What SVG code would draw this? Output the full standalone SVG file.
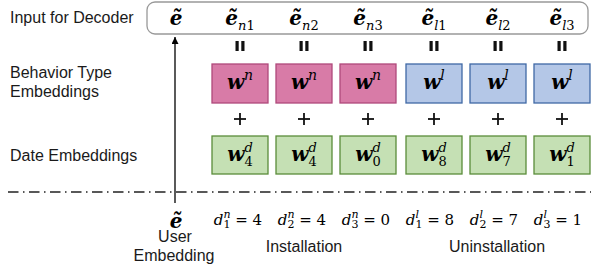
<svg xmlns="http://www.w3.org/2000/svg" width="591" height="276" viewBox="0 0 591 276">
<defs>
<style>
.lbl{font-family:"Liberation Sans",Arial,sans-serif;font-size:16px;fill:#1a1a1a}
.m{font-family:"DejaVu Serif","Liberation Serif",serif;fill:#000}
.eb{font-weight:bold;font-style:italic;font-size:20px}
.wb{font-weight:bold;font-style:italic;font-size:20px}
.it{font-style:italic}
.sub{font-size:13px}
.sup{font-size:14px}
.d{font-size:15px}
.ds{font-size:11px}
.pink{fill:#d87ba7;stroke:#b0497b;stroke-width:1.3}
.blue{fill:#b4c7e7;stroke:#3f69a5;stroke-width:1.3}
.green{fill:#c5e0b4;stroke:#5a8d3a;stroke-width:1.3}
.eq{fill:#111}
.plus{stroke:#111;stroke-width:1.8}
</style>
<marker id="ah" viewBox="0 0 10 10" refX="10" refY="5" markerWidth="7" markerHeight="7" orient="auto" markerUnits="userSpaceOnUse">
<path d="M0,0 L10,5 L0,10 z" fill="#000"/>
</marker>
<g id="eqsign"><rect x="-4.5" y="0" width="3.2" height="10"/><rect x="1.3" y="0" width="3.2" height="10"/></g>
<g id="plussign"><line x1="-6" y1="0" x2="6" y2="0"/><line x1="0" y1="-6" x2="0" y2="6"/></g>
</defs>

<g id="row-labels">
<text class="lbl" x="10" y="23">Input for Decoder</text>
<text class="lbl" x="10" y="78">Behavior Type</text>
<text class="lbl" x="10" y="97">Embeddings</text>
<text class="lbl" x="10" y="161">Date Embeddings</text>
</g>

<g id="decoder-input">
<rect x="147" y="2" width="441" height="32" rx="8" ry="8" fill="#fff" stroke="#999" stroke-width="1.3"/>
<text class="m" x="176" y="25" text-anchor="middle"><tspan class="eb">ẽ</tspan></text>
<text class="m" x="240" y="25" text-anchor="middle"><tspan class="eb">ẽ</tspan><tspan class="sub it" dy="5">n</tspan><tspan class="sub">1</tspan></text>
<text class="m" x="304" y="25" text-anchor="middle"><tspan class="eb">ẽ</tspan><tspan class="sub it" dy="5">n</tspan><tspan class="sub">2</tspan></text>
<text class="m" x="368" y="25" text-anchor="middle"><tspan class="eb">ẽ</tspan><tspan class="sub it" dy="5">n</tspan><tspan class="sub">3</tspan></text>
<text class="m" x="434" y="25" text-anchor="middle"><tspan class="eb">ẽ</tspan><tspan class="sub it" dy="5">l</tspan><tspan class="sub">1</tspan></text>
<text class="m" x="498" y="25" text-anchor="middle"><tspan class="eb">ẽ</tspan><tspan class="sub it" dy="5">l</tspan><tspan class="sub">2</tspan></text>
<text class="m" x="562" y="25" text-anchor="middle"><tspan class="eb">ẽ</tspan><tspan class="sub it" dy="5">l</tspan><tspan class="sub">3</tspan></text>
</g>

<g id="equals" class="eq">
<use href="#eqsign" x="240" y="41"/>
<use href="#eqsign" x="304" y="41"/>
<use href="#eqsign" x="368" y="41"/>
<use href="#eqsign" x="434" y="41"/>
<use href="#eqsign" x="498" y="41"/>
<use href="#eqsign" x="562" y="41"/>
</g>

<g id="behavior-n1"><rect class="pink" x="212" y="64" width="56" height="39"/><text class="m" x="240" y="89" text-anchor="middle"><tspan class="wb">w</tspan><tspan class="sup it" dy="-9">n</tspan></text></g>
<g id="behavior-n2"><rect class="pink" x="276" y="64" width="56" height="39"/><text class="m" x="304" y="89" text-anchor="middle"><tspan class="wb">w</tspan><tspan class="sup it" dy="-9">n</tspan></text></g>
<g id="behavior-n3"><rect class="pink" x="340" y="64" width="56" height="39"/><text class="m" x="368" y="89" text-anchor="middle"><tspan class="wb">w</tspan><tspan class="sup it" dy="-9">n</tspan></text></g>
<g id="behavior-l1"><rect class="blue" x="406" y="64" width="56" height="39"/><text class="m" x="434" y="89" text-anchor="middle"><tspan class="wb">w</tspan><tspan class="sup it" dy="-9">l</tspan></text></g>
<g id="behavior-l2"><rect class="blue" x="470" y="64" width="56" height="39"/><text class="m" x="498" y="89" text-anchor="middle"><tspan class="wb">w</tspan><tspan class="sup it" dy="-9">l</tspan></text></g>
<g id="behavior-l3"><rect class="blue" x="534" y="64" width="56" height="39"/><text class="m" x="562" y="89" text-anchor="middle"><tspan class="wb">w</tspan><tspan class="sup it" dy="-9">l</tspan></text></g>

<g id="pluses" class="plus">
<use href="#plussign" x="240" y="119"/>
<use href="#plussign" x="304" y="119"/>
<use href="#plussign" x="368" y="119"/>
<use href="#plussign" x="434" y="119"/>
<use href="#plussign" x="498" y="119"/>
<use href="#plussign" x="562" y="119"/>
</g>

<g id="date-n1"><rect class="green" x="212" y="136" width="56" height="38"/><text class="m" x="240" y="161" text-anchor="middle"><tspan class="wb">w</tspan><tspan class="sub it" dy="-9">d</tspan><tspan class="sub" dx="-8.3" dy="14">4</tspan></text></g>
<g id="date-n2"><rect class="green" x="276" y="136" width="56" height="38"/><text class="m" x="304" y="161" text-anchor="middle"><tspan class="wb">w</tspan><tspan class="sub it" dy="-9">d</tspan><tspan class="sub" dx="-8.3" dy="14">4</tspan></text></g>
<g id="date-n3"><rect class="green" x="340" y="136" width="56" height="38"/><text class="m" x="368" y="161" text-anchor="middle"><tspan class="wb">w</tspan><tspan class="sub it" dy="-9">d</tspan><tspan class="sub" dx="-8.3" dy="14">0</tspan></text></g>
<g id="date-l1"><rect class="green" x="406" y="136" width="56" height="38"/><text class="m" x="434" y="161" text-anchor="middle"><tspan class="wb">w</tspan><tspan class="sub it" dy="-9">d</tspan><tspan class="sub" dx="-8.3" dy="14">8</tspan></text></g>
<g id="date-l2"><rect class="green" x="470" y="136" width="56" height="38"/><text class="m" x="498" y="161" text-anchor="middle"><tspan class="wb">w</tspan><tspan class="sub it" dy="-9">d</tspan><tspan class="sub" dx="-8.3" dy="14">7</tspan></text></g>
<g id="date-l3"><rect class="green" x="534" y="136" width="56" height="38"/><text class="m" x="562" y="161" text-anchor="middle"><tspan class="wb">w</tspan><tspan class="sub it" dy="-9">d</tspan><tspan class="sub" dx="-8.3" dy="14">1</tspan></text></g>

<g id="connectors">
<line x1="175" y1="203" x2="175" y2="37" stroke="#000" stroke-width="1.3" marker-end="url(#ah)"/>
<line x1="8" y1="192" x2="591" y2="192" stroke="#222" stroke-width="1.3" stroke-dasharray="10.5 4.5 1.5 4.5"/>
</g>

<g id="user-embedding">
<text class="m" x="176" y="228" text-anchor="middle"><tspan class="eb">ẽ</tspan></text>
<text class="lbl" x="175" y="242" text-anchor="middle">User</text>
<text class="lbl" x="174" y="261" text-anchor="middle">Embedding</text>
</g>

<g id="dates">
<text class="m d" x="238" y="225" text-anchor="middle"><tspan class="it">d</tspan><tspan class="ds it" dy="-7">n</tspan><tspan class="ds" dx="-7" dy="10">1</tspan><tspan dy="-3"> = 4</tspan></text>
<text class="m d" x="302" y="225" text-anchor="middle"><tspan class="it">d</tspan><tspan class="ds it" dy="-7">n</tspan><tspan class="ds" dx="-7" dy="10">2</tspan><tspan dy="-3"> = 4</tspan></text>
<text class="m d" x="366" y="225" text-anchor="middle"><tspan class="it">d</tspan><tspan class="ds it" dy="-7">n</tspan><tspan class="ds" dx="-7" dy="10">3</tspan><tspan dy="-3"> = 0</tspan></text>
<text class="m d" x="430" y="225" text-anchor="middle"><tspan class="it">d</tspan><tspan class="ds it" dy="-7">l</tspan><tspan class="ds" dx="-3.5" dy="10">1</tspan><tspan dy="-3"> = 8</tspan></text>
<text class="m d" x="494" y="225" text-anchor="middle"><tspan class="it">d</tspan><tspan class="ds it" dy="-7">l</tspan><tspan class="ds" dx="-3.5" dy="10">2</tspan><tspan dy="-3"> = 7</tspan></text>
<text class="m d" x="558" y="225" text-anchor="middle"><tspan class="it">d</tspan><tspan class="ds it" dy="-7">l</tspan><tspan class="ds" dx="-3.5" dy="10">3</tspan><tspan dy="-3"> = 1</tspan></text>
</g>

<g id="group-labels">
<text class="lbl" x="304" y="252" text-anchor="middle">Installation</text>
<text class="lbl" x="497" y="252" text-anchor="middle">Uninstallation</text>
</g>
</svg>
